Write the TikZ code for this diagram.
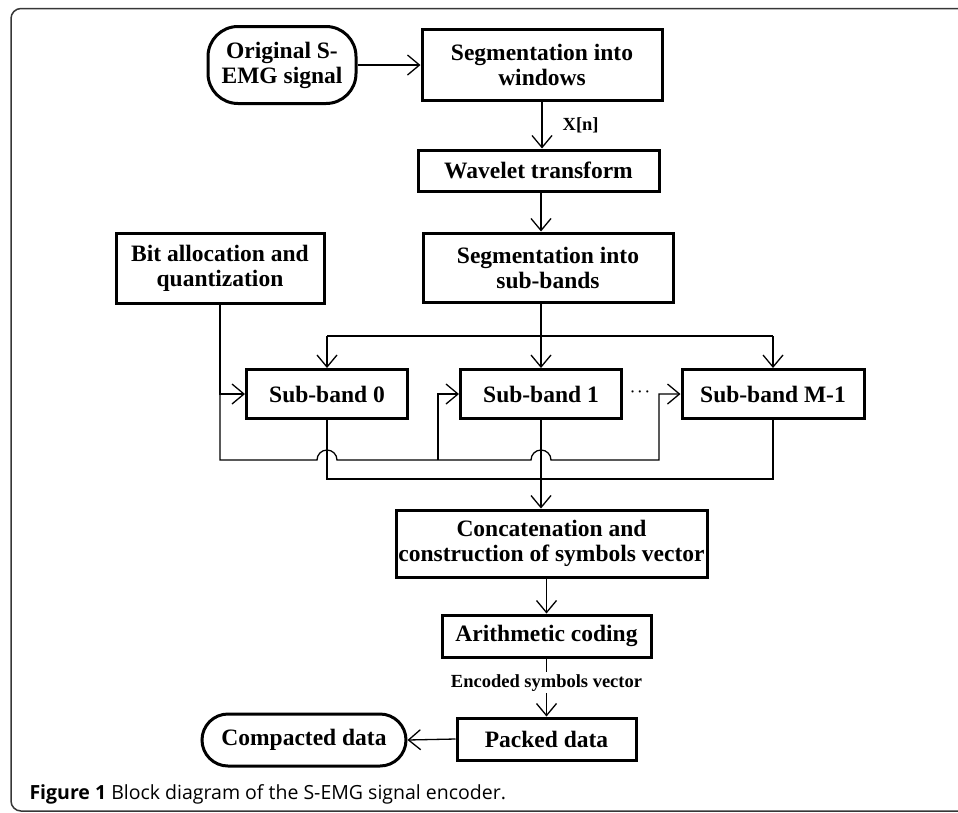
\documentclass[tikz,border=0pt]{standalone}
\usepackage{fontspec}
\setmainfont{Liberation Serif}
\newfontfamily\capfont{Open Sans}
\usepackage{tikz}
\usetikzlibrary{arrows.meta, calc}
\definecolor{framegray}{RGB}{55,55,55}

\begin{document}
\begin{tikzpicture}[x=1pt, y=-1pt,
    box/.style={draw, line width=3pt, align=center, inner sep=0pt,
        font=\fontsize{23.5}{25}\selectfont\bfseries},
    stadium/.style={box, rounded corners=#1},
    link/.style={line width=1.3pt},
    arr/.style={link, -{Straight Barb[length=12pt, width=20pt, line width=1.3pt]}},
    small/.style={font=\fontsize{18.5}{20}\selectfont\bfseries, inner sep=2pt}]

    \useasboundingbox (0,0) rectangle (958,812);
    \begin{scope}
        \clip (0,0) rectangle (958,812);
        \draw[framegray, line width=1.5pt, rounded corners=10pt] (11,8.5) rectangle (1000,811);
    \end{scope}

    \node[stadium=30pt, minimum width=148pt, minimum height=77pt] (orig) at (282,65) {Original S-\\EMG signal};
    \node[box, minimum width=240pt, minimum height=71pt] (win) at (542,65) {Segmentation into\\windows};
    \node[box, minimum width=241pt, minimum height=41pt] (wav) at (538.5,170.5) {Wavelet transform};
    \node[box, minimum width=250pt, minimum height=69pt] (sub) at (548,267.5) {Segmentation into\\sub-bands};
    \node[box, minimum width=208pt, minimum height=70pt] (bit) at (220,268) {Bit allocation and\\quantization};

    \node[box, minimum width=161pt, minimum height=49pt] (sb0) at (327,394) {Sub-band 0};
    \node[box, minimum width=161pt, minimum height=49pt] (sb1) at (541,394) {Sub-band 1};
    \node[box, minimum width=182pt, minimum height=49pt] (sbM) at (773,394) {Sub-band M-1};
    \node[font=\fontsize{14}{16}\selectfont\boldmath] (dots) at (640,392) {$\cdots$};

    \node[box, minimum width=311pt, minimum height=67pt] (concat) at (551.5,543.5) {Concatenation and\\construction of symbols vector};
    \node[box, minimum width=209pt, minimum height=42pt] (arith) at (546.5,636) {Arithmetic coding};
    \node[box, minimum width=179pt, minimum height=42pt] (packed) at (546.5,739) {Packed data};
    \node[stadium=26pt, minimum width=204pt, minimum height=52pt] (compact) at (304,740) {Compacted data};

    \coordinate (sbus) at (541,336);
    \coordinate (qtap1) at (438,460);
    \coordinate (qtap2) at (659,460);
    \coordinate (cbus) at (541,479);

    \draw[arr] (orig.east) -- (win.west);
    \draw[arr] (win.south) -- node[small, right=18pt] {X[n]} (win.south |- wav.north);
    \draw[arr] (wav.south -| sb1.north) -- (sub.north -| sb1.north);

    % sub-band distribution
    \draw[link] (sub.south -| sb1.north) -- (sb1.north |- sbus);
    \draw[link] (sb0.north |- sbus) -- (sbM.north |- sbus);
    \foreach \b in {sb0, sb1, sbM}
        \draw[arr] (\b.north |- sbus) -- (\b.north);

    % quantization bus
    \draw[arr] (bit.south) |- (sb0.west);
    \draw[arr] (bit.south) |- ($(sb0.south |- qtap1)+(-10,0)$)
        arc[start angle=180, end angle=0, radius=10pt]
        -- ($(sb1.south |- qtap1)+(-10,0)$)
        arc[start angle=180, end angle=0, radius=10pt]
        -- (qtap2) |- (sbM.west);
    \draw[arr] (qtap1) |- (sb1.west);

    % collecting bus
    \draw[link] (sb0.south) |- (cbus);
    \draw[link] (sbM.south) |- (cbus);
    \draw[arr] (sb1.south) -- (sb1.south |- concat.north);

    \draw[arr] (arith.north |- concat.south) -- (arith.north);
    \draw[arr] (arith.south) -- node[small, fill=white, pos=0.42] {Encoded symbols vector} (arith.south |- packed.north);
    \draw[arr] (packed.west) -- (compact.east);

    \node[anchor=base west, font=\capfont\fontsize{19.5}{22}\selectfont] (caption) at (26,799)
        {\textbf{Figure 1} Block diagram of the S-EMG signal encoder.};

\end{tikzpicture}
\end{document}
